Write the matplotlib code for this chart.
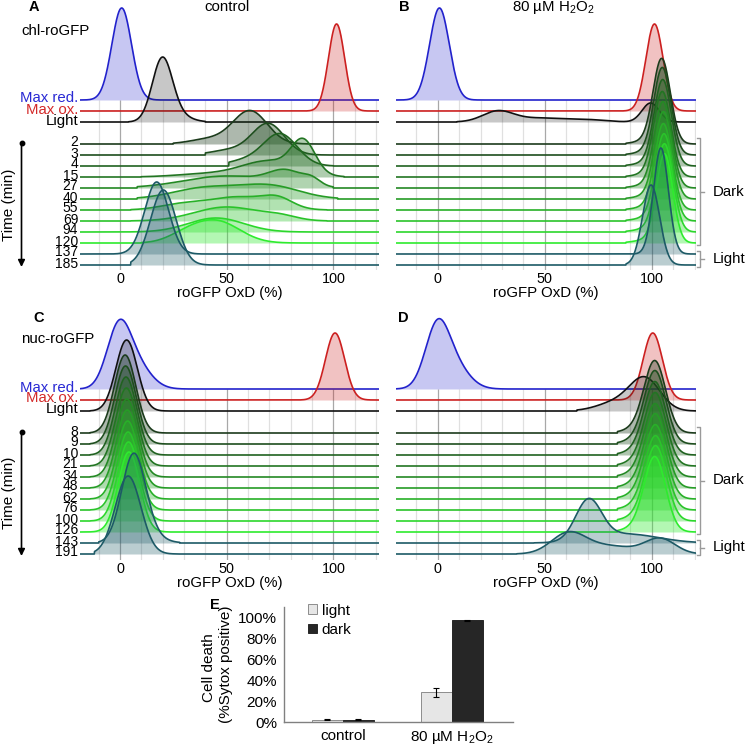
import numpy as np
import matplotlib
matplotlib.use("Agg")
import matplotlib.pyplot as plt
from matplotlib import transforms
from matplotlib.patches import Patch

plt.rcParams['font.family'] = ['Liberation Sans', 'DejaVu Sans']
plt.rcParams['mathtext.fontset'] = 'custom'
plt.rcParams['mathtext.rm'] = 'Liberation Sans'
plt.rcParams['mathtext.it'] = 'Liberation Sans:italic'
plt.rcParams['mathtext.bf'] = 'Liberation Sans:bold'
plt.rcParams['mathtext.default'] = 'regular'

# ---------------------------------------------------------------- data
labels_chl = ["Max red.", "Max ox.", "Light", "2", "3", "4", "15", "27", "40",
              "55", "69", "94", "120", "137", "185"]
labels_nuc = ["Max red.", "Max ox.", "Light", "8", "9", "10", "21", "34", "48",
              "62", "76", "100", "126", "143", "191"]
row_slot = [0, 1, 2, 4, 5, 6, 7, 8, 9, 10, 11, 12, 13, 14, 15]

# each ridge: list of (centre %, spread %, height) peaks
peaks_A = [
    [(0.8, 4.6, 92)],
    [(101.5, 3.8, 87)],
    [(19.8, 4.7, 62), (27, 6, 6)],
    [(61, 8, 33), (42, 9, 5)],
    [(69.5, 7.5, 31), (52, 9, 5)],
    [(75, 8, 32), (58, 8, 5)],
    [(86, 5.5, 31), (70, 13, 16), (40, 14, 3)],
    [(78, 8, 14), (90, 4, 6), (50, 20, 12)],
    [(70, 14, 13), (40, 15, 11)],
    [(74, 7, 9), (55, 14, 13), (28, 10, 5)],
    [(50, 15, 14), (75, 8, 4)],
    [(45, 13, 14)],
    [(45, 11, 22), (30, 8, 6)],
    [(17.2, 5.6, 72)],
    [(20.3, 6.0, 75)],
]
range_A = [(-25, 125), (-25, 125), (4, 40), (25, 95), (40, 100), (51, 100),
           (10, 105), (8, 100), (8, 102), (5, 97), (5, 97), (3, 90), (10, 90),
           (-5, 45), (5, 45)]

peaks_B = [
    [(0.8, 4.6, 92)],
    [(101.3, 4.0, 87)],
    [(28, 7, 10), (48, 14, 4), (72, 8, 1.5), (99.5, 4.0, 19)],
    [(104.7, 4.0, 84), (98, 6, 3)],
    [(105.0, 4.0, 86), (98, 6, 3)],
    [(105.2, 4.0, 85), (98, 6, 3)],
    [(105.0, 4.0, 84), (98, 6, 3)],
    [(105.3, 4.0, 85), (98, 6, 3)],
    [(105.5, 4.0, 86), (98, 6, 3)],
    [(105.5, 4.0, 85), (98, 6, 3)],
    [(105.8, 4.0, 86), (98, 6, 3)],
    [(106.0, 4.0, 87), (98, 6, 3)],
    [(106.0, 3.8, 88), (98, 6, 3)],
    [(104.3, 3.5, 106)],
    [(99.7, 4.0, 80)],
]
range_B = [(-25, 125), (-25, 125), (9, 125)] + [(88, 125)] * 10 + [(88, 125), (88, 125)]

peaks_C = [
    [(-0.8, 5.5, 55), (7, 7, 25)],
    [(100.8, 4.5, 67)],
    [(3.1, 5.0, 71)],
    [(2.4, 5.0, 78)],
    [(2.6, 5.0, 78)],
    [(2.8, 5.0, 78)],
    [(3.0, 5.0, 78)],
    [(3.2, 5.0, 78)],
    [(3.4, 5.0, 78)],
    [(3.6, 5.0, 78)],
    [(3.8, 5.0, 78)],
    [(4.0, 5.0, 79)],
    [(4.2, 5.0, 80)],
    [(6.3, 5.5, 84), (12, 7, 8)],
    [(3.8, 6.0, 78)],
]
range_C = [(-25, 125), (80, 125), (-14, 23)] + [(-14, 23)] * 10 + [(-10, 28), (-12, 27)]

peaks_D = [
    [(-0.5, 5.5, 55), (7, 7, 25)],
    [(100.5, 4.5, 67)],
    [(97, 7, 31), (84, 9, 9)],
    [(101.5, 5.0, 71), (93, 6, 4)],
    [(101.6, 5.0, 72), (93, 6, 4)],
    [(101.6, 5.0, 72), (93, 6, 4)],
    [(101.7, 5.0, 72), (93, 6, 4)],
    [(101.7, 5.0, 72), (93, 6, 4)],
    [(101.8, 5.0, 73), (93, 6, 4)],
    [(101.8, 5.0, 73), (93, 6, 4)],
    [(101.9, 5.0, 73), (93, 6, 4)],
    [(101.9, 5.0, 74), (93, 6, 4)],
    [(101.5, 5.0, 74), (93, 6, 4)],
    [(70.5, 6, 40), (88, 15, 9)],
    [(61, 8, 20), (80, 12, 8), (104, 7, 15)],
]
range_D = [(-25, 125), (80, 125), (65, 125)] + [(84, 125)] * 10 + [(45, 125), (37, 125)]

xticks_ridge = [0, 50, 100]

cats_E = ["control", "80 µM H$_2$O$_2$"]
light_E = [2.3, 28.5]
light_err_E = [0.3, 4.3]
dark_E = [2.3, 97.5]
dark_err_E = [0.3, 0.5]
yticks_E = [0, 20, 40, 60, 80, 100]

# ---------------------------------------------------------------- styling
W, H = 747, 748
fig = plt.figure(figsize=(W / 100, H / 100), dpi=100)
FS = 10.8
FS_NUM = 10.0
SP = 11.0  # vertical offset between ridges

g0 = np.array([0.11, 0.23, 0.11])
g1 = np.array([0.18, 0.92, 0.18])
greens = [tuple(g0 + (g1 - g0) * t) for t in np.linspace(0, 1, 10)]
row_colors = ['#2222cc', '#cc2020', '#111111'] + greens + ['#1d5a66', '#1d5a66']
row_alpha = [0.25, 0.27, 0.23] + [0.36] * 10 + [0.3, 0.3]
label_colors = ['#2a2ad4', '#d42a2a'] + ['black'] * 13


def px_axes(x0, y0, x1, y1):
    return fig.add_axes([x0 / W, 1 - y1 / H, (x1 - x0) / W, (y1 - y0) / H])


def ftext(px, py, s, **kw):
    fig.text(px / W, 1 - py / H, s, **kw)


def ridge(ax, peaks, ranges, xlim, ylim, labels=None):
    ax.set_xlim(*xlim)
    ax.set_ylim(*ylim)
    x = np.linspace(xlim[0], xlim[1], 1400)
    grid = np.arange(-10, 121, 10)
    for g in grid:
        major = (g % 50 == 0)
        ax.vlines(g, ylim[0], 0, color='#a8a8a8' if major else '#e0e0e0',
                  lw=0.9, zorder=0)
    for k, (comps, (lo, hi)) in enumerate(zip(peaks, ranges)):
        base = -SP * row_slot[k]
        dens = np.zeros_like(x)
        for c, s, h in comps:
            dens += h * np.exp(-0.5 * ((x - c) / s) ** 2)
        inside = (x >= lo) & (x <= hi)
        dens = np.where(inside, dens, 0.0)
        ax.fill_between(x, base, base + dens, where=inside, color=row_colors[k],
                        alpha=row_alpha[k], lw=0, zorder=2 + 2 * k)
        ax.plot(x, base + dens, color=row_colors[k], lw=1.2, zorder=3 + 2 * k,
                solid_joinstyle='round')
        if labels is not None:
            tr = transforms.blended_transform_factory(ax.transAxes, ax.transData)
            fs = FS if k < 3 else FS_NUM
            ax.text(-0.006, base + 1.5, labels[k], transform=tr, ha='right',
                    va='center', fontsize=fs, color=label_colors[k])
    for sp in ax.spines.values():
        sp.set_visible(False)
    ax.set_yticks([])
    ax.set_xticks(xticks_ridge)
    ax.tick_params(axis='x', length=0, pad=1.5, labelsize=10.4)
    ax.set_xlabel('roGFP OxD (%)', fontsize=FS, labelpad=0)
    ax.patch.set_alpha(0)


def bracket(ax, y_top, y_bot, text):
    tr = transforms.blended_transform_factory(fig.transFigure, ax.transData)
    xb, xt, xm = 700 / W, 697 / W, 704 / W
    ym = 0.5 * (y_top + y_bot)
    ax.plot([xt, xb, xb, xt], [y_top, y_top, y_bot, y_bot], transform=tr,
            color='#9a9a9a', lw=1.0, clip_on=False)
    ax.plot([xb, xm], [ym, ym], transform=tr, color='#9a9a9a', lw=1.0, clip_on=False)
    ax.text(713 / W, ym, text, transform=tr, ha='left', va='center', fontsize=FS)


def time_arrow(ax, y_text):
    tr = transforms.blended_transform_factory(fig.transFigure, ax.transData)
    xa = 21.5 / W
    ax.annotate('', xy=(xa, -167), xytext=(xa, -43), xycoords=tr, textcoords=tr,
                arrowprops=dict(arrowstyle='-|>', lw=1.2, color='black',
                                mutation_scale=10, shrinkA=0, shrinkB=0))
    ax.plot([xa], [-43], 'o', ms=3.2, color='black', transform=tr, clip_on=False)
    ax.text(9.5 / W, y_text, 'Time (min)', transform=tr, rotation=90,
            ha='center', va='center', fontsize=11)


xlim_L = (-18.75, 121.4)
xlim_R = (-19.5, 120.7)

axA = px_axes(80, 2, 379, 270)
ridge(axA, peaks_A, range_A, xlim_L, (-170, 98), labels_chl)
time_arrow(axA, -105)

axB = px_axes(396, 2, 696, 270)
ridge(axB, peaks_B, range_B, xlim_R, (-170, 98))
bracket(axB, -SP * 4 + 6, -SP * 13 - 2, 'Dark')
bracket(axB, -SP * 14 + 3, -SP * 15 - 2, 'Light')

axC = px_axes(80, 310, 379, 560)
ridge(axC, peaks_C, range_C, xlim_L, (-171, 79), labels_nuc)
time_arrow(axC, -104)

axD = px_axes(396, 310, 696, 560)
ridge(axD, peaks_D, range_D, xlim_R, (-171, 79))
bracket(axD, -SP * 4 + 6, -SP * 13 - 2, 'Dark')
bracket(axD, -SP * 14 + 3, -SP * 15 - 1, 'Light')

# titles / panel letters
ftext(34, 7, 'A', fontsize=10.5, fontweight='bold', ha='center', va='center')
ftext(404, 7, 'B', fontsize=10.5, fontweight='bold', ha='center', va='center')
ftext(39, 318, 'C', fontsize=10.5, fontweight='bold', ha='center', va='center')
ftext(403, 318, 'D', fontsize=10.5, fontweight='bold', ha='center', va='center')
ftext(227, 7, 'control', fontsize=FS, ha='center', va='center')
ftext(553, 7, '80 µM H$_2$O$_2$', fontsize=FS, ha='center', va='center')
ftext(55, 31, 'chl-roGFP', fontsize=FS, ha='center', va='center')
ftext(58, 339, 'nuc-roGFP', fontsize=FS, ha='center', va='center')

# ---------------------------------------------------------------- panel E
axE = px_axes(284, 607, 513, 722)
xc = np.arange(len(cats_E))
bw = 0.285
ekw = dict(ecolor='black', elinewidth=0.8, capsize=2.5, capthick=0.8)
axE.bar(xc - bw / 2, light_E, bw, yerr=light_err_E, color='#e6e6e6',
        edgecolor='#8c8c8c', lw=0.7, error_kw=ekw)
axE.bar(xc + bw / 2, dark_E, bw, yerr=dark_err_E, color='#262626',
        edgecolor='#262626', lw=0.7, error_kw=ekw)
axE.set_xlim(-0.54, 1.56)
axE.set_ylim(0, 110)
axE.set_yticks(yticks_E)
axE.set_yticklabels([f'{v}%' for v in yticks_E])
axE.set_xticks(xc)
axE.set_xticklabels(cats_E)
axE.tick_params(axis='both', length=0, labelsize=11)
axE.tick_params(axis='y', pad=5)
axE.tick_params(axis='x', pad=5)
for s in ['top', 'right']:
    axE.spines[s].set_visible(False)
for s in ['left', 'bottom']:
    axE.spines[s].set_color('#808080')
    axE.spines[s].set_linewidth(1.0)
ftext(209, 668, 'Cell death', fontsize=11, rotation=90, ha='center', va='center')
ftext(226, 664, '(%Sytox positive)', fontsize=11, rotation=90, ha='center', va='center')
handles = [Patch(facecolor='#e6e6e6', edgecolor='#8c8c8c', lw=0.7),
           Patch(facecolor='#262626', edgecolor='#262626', lw=0.7)]
axE.legend(handles, ['light', 'dark'], loc='upper left', bbox_to_anchor=(0.105, 1.03),
           frameon=False, fontsize=11, handlelength=0.6, handleheight=0.6,
           handletextpad=0.3, labelspacing=0.35, borderpad=0, borderaxespad=0)
ftext(215, 605, 'E', fontsize=10.5, fontweight='bold', ha='center', va='center')

fig.savefig('out.png', dpi=100)
